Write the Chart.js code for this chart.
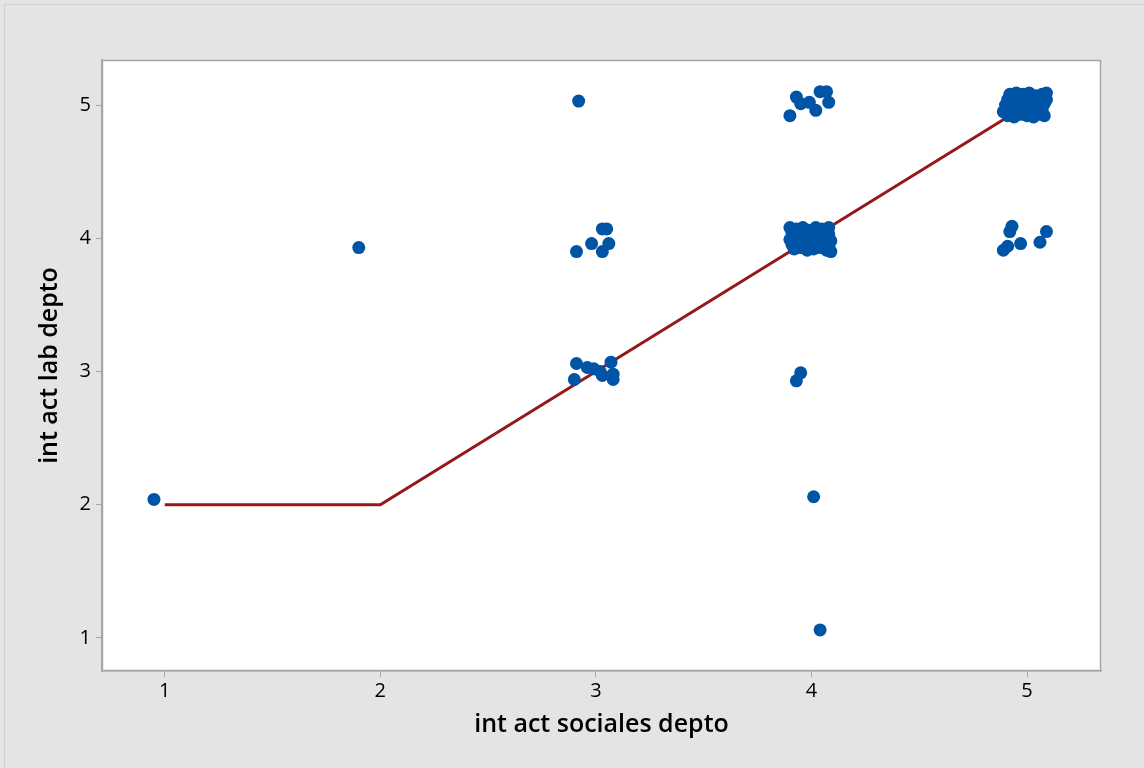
<!DOCTYPE html>
<html>
<head>
<meta charset="utf-8">
<script src="https://cdn.jsdelivr.net/npm/chart.js@4"></script>
<style>
  html, body { margin:0; padding:0; overflow:hidden; background:#e4e4e4; }
  .frame { position:absolute; left:4px; top:4px; width:1200px; height:800px; border-left:1px solid #cfcfcf; border-top:1px solid #cfcfcf; }
  canvas { position:absolute; left:0; top:0; }
</style>
</head>
<body>
<div class="frame"></div>
<canvas id="chart" width="1144" height="768"></canvas>
<script>
// tick labels
const xTicks = [1, 2, 3, 4, 5];
const yTicks = [1, 2, 3, 4, 5];

// fitted line (int act sociales depto -> int act lab depto)
const fitX = [1, 2, 3, 4, 5];
const fitY = [2, 2, 3, 4, 5];

// jittered observations, read off the picture
// lone points
const loneX = [0.95, 1.90, 2.92, 4.01, 4.04];
const loneY = [2.04, 3.93, 5.03, 2.06, 1.06];

// around (3,4)
const c34X = [2.91, 2.98, 3.03, 3.06, 3.03, 3.05];
const c34Y = [3.90, 3.96, 3.90, 3.96, 4.07, 4.07];

// around (3,3)
const c33X = [2.91, 2.90, 2.96, 2.99, 3.02, 3.03, 3.07, 3.08, 3.08];
const c33Y = [3.06, 2.94, 3.03, 3.02, 3.00, 2.97, 3.07, 2.98, 2.94];

// around (4,5)
const c45X = [3.90, 3.93, 3.95, 3.99, 4.02, 4.04, 4.07, 4.08];
const c45Y = [4.92, 5.06, 5.01, 5.02, 4.96, 5.10, 5.10, 5.02];

// around (4,3)
const c43X = [3.95, 3.93];
const c43Y = [2.99, 2.93];

// around (5,4)
const c54X = [4.89, 4.91, 4.92, 4.93, 4.97, 5.06, 5.09];
const c54Y = [3.91, 3.94, 4.05, 4.09, 3.96, 3.97, 4.05];

// dense block around (4,4)
const c44X = [3.90, 3.93, 3.96, 3.99, 4.02, 4.05, 4.08,
              3.91, 3.94, 3.97, 4.00, 4.03, 4.06, 4.08,
              3.90, 3.93, 3.96, 3.99, 4.02, 4.05, 4.09,
              3.91, 3.94, 3.97, 4.00, 4.03, 4.06, 4.08,
              3.92, 3.95, 3.98, 4.01, 4.04, 4.07, 4.09];
const c44Y = [4.08, 4.07, 4.08, 4.06, 4.08, 4.07, 4.08,
              4.04, 4.03, 4.05, 4.04, 4.03, 4.05, 4.03,
              3.99, 4.00, 3.98, 4.00, 3.99, 4.00, 3.98,
              3.95, 3.94, 3.96, 3.95, 3.94, 3.96, 3.94,
              3.92, 3.93, 3.91, 3.92, 3.93, 3.91, 3.90];

// dense block around (5,5)
const c55X = [4.92, 4.95, 4.98, 5.01, 5.04, 5.07, 5.09,
              4.91, 4.94, 4.97, 5.00, 5.03, 5.06, 5.09,
              4.90, 4.93, 4.96, 4.99, 5.02, 5.05, 5.08,
              4.89, 4.92, 4.95, 4.98, 5.01, 5.04, 5.07,
              4.91, 4.94, 4.97, 5.00, 5.03, 5.06, 5.08];
const c55Y = [5.08, 5.09, 5.08, 5.09, 5.07, 5.08, 5.09,
              5.04, 5.03, 5.05, 5.04, 5.03, 5.05, 5.04,
              5.00, 4.99, 5.01, 5.00, 4.99, 5.00, 5.01,
              4.95, 4.96, 4.97, 4.95, 4.96, 4.95, 4.97,
              4.92, 4.91, 4.93, 4.92, 4.91, 4.93, 4.92];

const sociales = [].concat(loneX, c34X, c33X, c45X, c43X, c54X, c44X, c55X);
const lab      = [].concat(loneY, c34Y, c33Y, c45Y, c43Y, c54Y, c44Y, c55Y);

const FONT = "'Open Sans', 'Noto Sans', sans-serif";
const AXIS = '#a6a6a6';

// white plot area with a grey frame, like Minitab
const plotFrame = {
  id: 'plotFrame',
  beforeDraw(chart) {
    const { ctx, chartArea: a } = chart;
    ctx.save();
    ctx.fillStyle = '#ffffff';
    ctx.fillRect(a.left, a.top, a.right - a.left, a.bottom - a.top);
    ctx.restore();
  },
  afterDraw(chart) {
    const { ctx, chartArea: a } = chart;
    ctx.save();
    ctx.strokeStyle = AXIS;
    ctx.lineWidth = 1.5;
    ctx.strokeRect(a.left + 0.5, a.top + 0.5, a.right - a.left - 1, a.bottom - a.top - 1);
    ctx.restore();
  }
};

new Chart(document.getElementById('chart'), {
  data: {
    datasets: [
      {
        type: 'scatter',
        data: sociales.map((x, i) => ({ x, y: lab[i] })),
        backgroundColor: '#0054a6',
        borderWidth: 0,
        pointRadius: 6.5,
        pointHoverRadius: 6.5
      },
      {
        type: 'line',
        data: fitX.map((x, i) => ({ x, y: fitY[i] })),
        borderColor: '#961818',
        borderWidth: 3,
        pointRadius: 0,
        fill: false,
        tension: 0
      }
    ]
  },
  options: {
    responsive: false,
    animation: false,
    layout: { padding: { left: 0, right: 43, top: 60, bottom: 0 } },
    plugins: { legend: { display: false }, tooltip: { enabled: false } },
    scales: {
      x: {
        type: 'linear',
        min: 0.709,
        max: 5.343,
        afterFit: s => { s.height = 97; },
        afterBuildTicks: s => { s.ticks = xTicks.map(v => ({ value: v })); },
        ticks: { color: '#000', font: { family: FONT, size: 20 }, padding: 2 },
        grid: { drawOnChartArea: false, tickLength: 6, color: AXIS },
        border: { color: AXIS, width: 1.5 },
        title: {
          display: true,
          text: 'int act sociales depto',
          color: '#000',
          font: { family: FONT, size: 25, weight: '600' },
          padding: { top: 0, bottom: 28 }
        }
      },
      y: {
        type: 'linear',
        min: 0.752,
        max: 5.338,
        afterFit: s => { s.width = 102; },
        afterBuildTicks: s => { s.ticks = yTicks.map(v => ({ value: v })); },
        ticks: { color: '#000', font: { family: FONT, size: 20 }, padding: 5 },
        grid: { drawOnChartArea: false, tickLength: 6, color: AXIS },
        border: { color: AXIS, width: 1.5 },
        title: {
          display: true,
          text: 'int act lab depto',
          color: '#000',
          font: { family: FONT, size: 25, weight: '600' },
          padding: { top: 35, bottom: 0 }
        }
      }
    }
  },
  plugins: [plotFrame]
});
</script>
</body>
</html>
